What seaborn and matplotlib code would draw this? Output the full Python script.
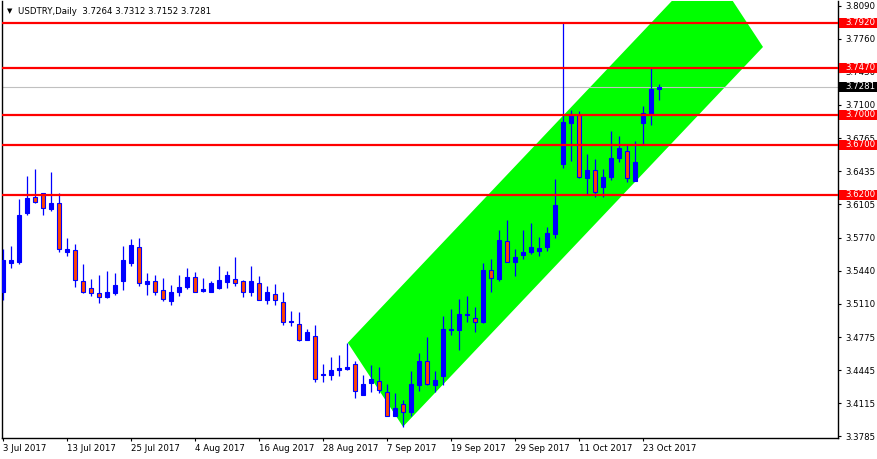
import numpy as np
import pandas as pd
import matplotlib
matplotlib.use("Agg")
import matplotlib.pyplot as plt
from matplotlib.patches import Rectangle
import seaborn as sns

# -------------------------------
# Data (USDTRY daily, 3 Jul - 25 Oct 2017)
# -------------------------------

opens = [3.5230, 3.5517, 3.5530, 3.6017, 3.6177, 3.6217, 3.6063, 3.6117, 3.5633, 3.5650,
         3.5340, 3.5267, 3.5217, 3.5173, 3.5217, 3.5343, 3.5523, 3.5677, 3.5307, 3.5337,
         3.5250, 3.5133, 3.5223, 3.5283, 3.5380, 3.5240, 3.5233, 3.5273, 3.5333, 3.5360,
         3.5340, 3.5233, 3.5317, 3.5143, 3.5207, 3.5127, 3.4927, 3.4910, 3.4743, 3.4790,
         3.4393, 3.4393, 3.4443, 3.4453, 3.4510, 3.4193, 3.4317, 3.4337, 3.4227, 3.3983,
         3.4107, 3.4027, 3.4300, 3.4540, 3.4293, 3.4383, 3.4847, 3.4843, 3.4993, 3.4967,
         3.4923, 3.5447, 3.5360, 3.5740, 3.5533, 3.5600, 3.5627, 3.5643, 3.5677, 3.5810,
         3.6507, 3.6917, 3.7000, 3.6373, 3.6450, 3.6283, 3.6377, 3.6567, 3.6640, 3.6340,
         3.6923, 3.7010, 3.7264]
highs = [3.5660, 3.5690, 3.6157, 3.6390, 3.6460, 3.6217, 3.6427, 3.6217, 3.5767, 3.5710,
         3.5510, 3.5360, 3.5400, 3.5440, 3.5423, 3.5690, 3.5760, 3.5770, 3.5417, 3.5400,
         3.5367, 3.5300, 3.5400, 3.5470, 3.5433, 3.5367, 3.5340, 3.5490, 3.5440, 3.5583,
         3.5350, 3.5490, 3.5390, 3.5290, 3.5310, 3.5230, 3.5040, 3.5027, 3.4857, 3.4900,
         3.4510, 3.4580, 3.4600, 3.4720, 3.4533, 3.4400, 3.4500, 3.4480, 3.4310, 3.4217,
         3.4143, 3.4440, 3.4617, 3.4773, 3.4440, 3.4990, 3.5060, 3.5160, 3.5190, 3.5073,
         3.5517, 3.5557, 3.5850, 3.5950, 3.5660, 3.5850, 3.5917, 3.5777, 3.5883, 3.6360,
         3.7917, 3.7050, 3.7043, 3.6607, 3.6557, 3.6457, 3.6840, 3.6790, 3.6710, 3.6740,
         3.7090, 3.7467, 3.7312]
lows = [3.5150, 3.5470, 3.5510, 3.6000, 3.6117, 3.6000, 3.6043, 3.5633, 3.5593, 3.5280,
        3.5220, 3.5183, 3.5117, 3.5163, 3.5193, 3.5250, 3.5490, 3.5293, 3.5193, 3.5193,
        3.5133, 3.5100, 3.5183, 3.5260, 3.5230, 3.5233, 3.5233, 3.5260, 3.5267, 3.5293,
        3.5173, 3.5183, 3.5143, 3.5110, 3.5100, 3.4900, 3.4890, 3.4733, 3.4743, 3.4327,
        3.4323, 3.4343, 3.4383, 3.4443, 3.4163, 3.4193, 3.4223, 3.4217, 3.3983, 3.3983,
        3.3880, 3.3983, 3.4240, 3.4293, 3.4223, 3.4300, 3.4793, 3.4643, 3.4923, 3.4823,
        3.4917, 3.5233, 3.5343, 3.5533, 3.5393, 3.5560, 3.5607, 3.5593, 3.5643, 3.5773,
        3.6473, 3.6543, 3.6367, 3.6210, 3.6177, 3.6183, 3.6347, 3.6533, 3.6333, 3.6340,
        3.6710, 3.6900, 3.7152]
closes = [3.5550, 3.5550, 3.6000, 3.6167, 3.6133, 3.6067, 3.6123, 3.5657, 3.5657, 3.5350,
          3.5227, 3.5217, 3.5177, 3.5230, 3.5300, 3.5550, 3.5700, 3.5317, 3.5340, 3.5233,
          3.5153, 3.5230, 3.5280, 3.5380, 3.5233, 3.5260, 3.5317, 3.5350, 3.5400, 3.5317,
          3.5233, 3.5340, 3.5143, 3.5227, 3.5143, 3.4927, 3.4933, 3.4743, 3.4830, 3.4357,
          3.4410, 3.4450, 3.4470, 3.4480, 3.4240, 3.4307, 3.4360, 3.4250, 3.3983, 3.4067,
          3.4027, 3.4310, 3.4540, 3.4303, 3.4350, 3.4860, 3.4853, 3.5010, 3.5010, 3.4927,
          3.5450, 3.5367, 3.5750, 3.5533, 3.5577, 3.5627, 3.5677, 3.5667, 3.5817, 3.6100,
          3.6927, 3.7007, 3.6383, 3.6450, 3.6233, 3.6380, 3.6567, 3.6670, 3.6367, 3.6527,
          3.7017, 3.7257, 3.7281]

dates = pd.bdate_range("2017-07-03", "2017-10-25")

tick_labels = ["3 Jul 2017", "13 Jul 2017", "25 Jul 2017", "4 Aug 2017", "16 Aug 2017",
               "28 Aug 2017", "7 Sep 2017", "19 Sep 2017", "29 Sep 2017", "11 Oct 2017",
               "23 Oct 2017"]
tick_dates = ["2017-07-03", "2017-07-13", "2017-07-25", "2017-08-04", "2017-08-16",
              "2017-08-28", "2017-09-07", "2017-09-19", "2017-09-29", "2017-10-11",
              "2017-10-23"]

price_ticks = [3.8090, 3.7760, 3.7430, 3.7100, 3.6765, 3.6435, 3.6105, 3.5770,
               3.5440, 3.5110, 3.4775, 3.4445, 3.4115, 3.3785]

levels = [3.7920, 3.7470, 3.7000, 3.6700, 3.6200]
bid = 3.7281

# channel corners (bar index, price)
channel_x = [43.1, 50.0, 95.0, 88.1]
channel_y = [3.472, 3.388, 3.768, 3.852]

# -------------------------------
# Build table
# -------------------------------

df = pd.DataFrame({"Date": dates, "Open": opens, "High": highs, "Low": lows, "Close": closes})
df["i"] = np.arange(len(df))
df["Bull"] = df["Close"] >= df["Open"]

# -------------------------------
# Plot
# -------------------------------

sns.set_theme(style="white")
plt.rcParams["font.family"] = ["DejaVu Sans"]

fig = plt.figure(figsize=(8.78, 4.59), dpi=100)
ax = fig.add_axes([2 / 878, 21 / 459, 836 / 878, 437 / 459])

ax.fill(channel_x, channel_y, color="#00FF00", lw=0, zorder=1)

ax.vlines(df["i"], df["Low"], df["High"], color="#0000FF", lw=0.9, zorder=3)
body_bottom = df[["Open", "Close"]].min(axis=1)
body_height = (df["Close"] - df["Open"]).abs()
ax.bar(df["i"], body_height, bottom=body_bottom, width=0.55,
       color=np.where(df["Bull"], "#0000FF", "#FF4500"),
       edgecolor="#0000FF", linewidth=0.8, zorder=4)

ax.axhline(bid, color="#C0C0C0", lw=0.8, zorder=2)
for lv in levels:
    ax.axhline(lv, color="#FF0000", lw=1.6, zorder=5)

ax.set_xlim(-0.125, 104.375)
ax.set_ylim(3.3767, 3.814)

tick_pos = [int(df.index[df["Date"] == pd.Timestamp(d)][0]) for d in tick_dates]
ax.set_xticks(tick_pos)
ax.set_xticklabels(tick_labels, ha="left")
ax.yaxis.tick_right()
ax.set_yticks(price_ticks)
ax.set_yticklabels([f"{p:.4f}" for p in price_ticks])
ax.tick_params(axis="x", direction="out", length=2.5, width=0.8, pad=2,
               labelsize=6.2, colors="black", bottom=True)
ax.tick_params(axis="y", direction="out", length=2.5, width=0.8, pad=3,
               labelsize=6.2, colors="black", right=True, left=False)

sns.despine(ax=ax, top=True, right=False, left=False, bottom=False)
for s in ["left", "right", "bottom"]:
    ax.spines[s].set_color("black")
    ax.spines[s].set_linewidth(1.0)

# price boxes on the right scale
trans = ax.get_yaxis_transform()
for lv in levels:
    ax.add_patch(Rectangle((1.0015, lv - 0.0052), 0.0455, 0.0104, transform=trans,
                           facecolor="#FF0000", edgecolor="none", clip_on=False, zorder=10))
    ax.text(1.0084, lv, f"{lv:.4f}", transform=trans, color="white", fontsize=6.2,
            va="center", ha="left", clip_on=False, zorder=11)
ax.add_patch(Rectangle((1.0015, bid - 0.0052), 0.0455, 0.0104, transform=trans,
                       facecolor="black", edgecolor="none", clip_on=False, zorder=10))
ax.text(1.0084, bid, f"{bid:.4f}", transform=trans, color="white", fontsize=6.2,
        va="center", ha="left", clip_on=False, zorder=11)

# header
fig.text(7 / 878, 1 - 11 / 459, "\u25BC", fontsize=5, color="black", va="center", ha="left")
last = df.iloc[-1]
fig.text(18 / 878, 1 - 11 / 459,
         f"USDTRY,Daily  {last.Open:.4f} {last.High:.4f} {last.Low:.4f} {last.Close:.4f}",
         fontsize=6.2, color="black", va="center", ha="left")

fig.savefig("out.png", dpi=100)
